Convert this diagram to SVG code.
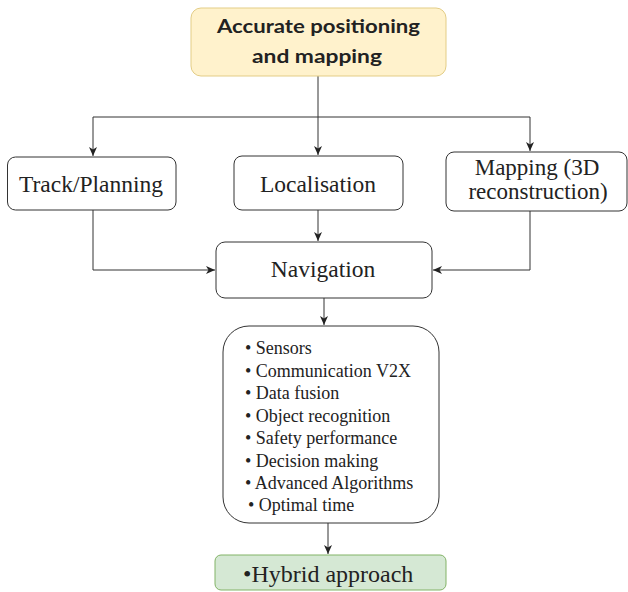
<svg xmlns="http://www.w3.org/2000/svg" width="628" height="592" viewBox="0 0 628 592">
<defs>
<marker id="ah" markerWidth="10" markerHeight="8" refX="9" refY="4" orient="auto" markerUnits="userSpaceOnUse">
<path d="M0,0 L9,4 L0,8 L2.5,4 z" fill="#222"/>
</marker>
<style>
.box{fill:#fff;stroke:#333;stroke-width:1}
.c{fill:none;stroke:#333;stroke-width:1}
</style>
</defs>
<rect width="628" height="592" fill="#fff"/>
<g id="connectors">
<path class="c" d="M318,76 V117"/>
<path class="c" d="M93,117 H530"/>
<path class="c" d="M93,117 V156" marker-end="url(#ah)"/>
<path class="c" d="M318,117 V155" marker-end="url(#ah)"/>
<path class="c" d="M530,117 V151" marker-end="url(#ah)"/>
<path class="c" d="M318,210 V241" marker-end="url(#ah)"/>
<path class="c" d="M93,210 V270 H215" marker-end="url(#ah)"/>
<path class="c" d="M530,211 V270 H433" marker-end="url(#ah)"/>
<path class="c" d="M324,298 V325" marker-end="url(#ah)"/>
<path class="c" d="M328,523 V554" marker-end="url(#ah)"/>
</g>
<g id="top">
<rect x="191" y="8" width="255" height="68" rx="10" fill="#fff2cc" stroke="#e3cd86" stroke-width="1"/>
<text x="318.5" y="33" font-family="Lato, 'Open Sans', sans-serif" font-weight="bold" font-size="19" fill="#222" text-anchor="middle" textLength="203" lengthAdjust="spacingAndGlyphs">Accurate positioning</text>
<text x="317" y="63" font-family="Lato, 'Open Sans', sans-serif" font-weight="bold" font-size="19" fill="#222" text-anchor="middle" textLength="130" lengthAdjust="spacingAndGlyphs">and mapping</text>
</g>
<g font-family="'Liberation Serif', 'Times New Roman', serif" fill="#222">
<g id="track">
<rect class="box" x="7.5" y="157" width="168.5" height="53" rx="8"/>
<text x="91" y="192" font-size="23.5" text-anchor="middle">Track/Planning</text>
</g>
<g id="localisation">
<rect class="box" x="234" y="156" width="169" height="54" rx="8"/>
<text x="318" y="192" font-size="23.5" text-anchor="middle">Localisation</text>
</g>
<g id="mapping">
<rect class="box" x="446" y="152" width="181" height="59" rx="8"/>
<text x="537" y="175" font-size="23" text-anchor="middle">Mapping (3D</text>
<text x="538" y="198.5" font-size="23" text-anchor="middle">reconstruction)</text>
</g>
<g id="navigation">
<rect class="box" x="216" y="242" width="216" height="56" rx="9"/>
<text x="323" y="277" font-size="23.5" text-anchor="middle">Navigation</text>
</g>
<g id="list" font-size="18">
<rect class="box" x="223" y="326" width="216" height="197" rx="26"/>
<text x="245" y="354">• Sensors</text>
<text x="245" y="376.5">• Communication  V2X</text>
<text x="245" y="399">• Data fusion</text>
<text x="245" y="421.5">• Object recognition</text>
<text x="245" y="444">• Safety performance</text>
<text x="245" y="466.5">• Decision making</text>
<text x="245" y="489">• Advanced Algorithms</text>
<text x="248" y="511">•  Optimal time</text>
</g>
<g id="hybrid">
<rect x="215" y="555" width="231" height="35" rx="6" fill="#d5e8d4" stroke="#82b366" stroke-width="1"/>
<text x="243" y="582" font-size="24">•Hybrid approach</text>
</g>
</g>
</svg>
